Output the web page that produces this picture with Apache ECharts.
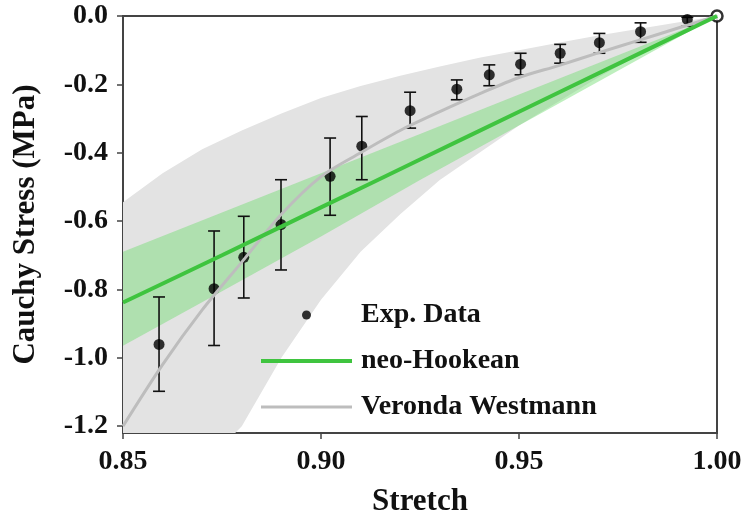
<!DOCTYPE html>
<html>
<head>
    <meta charset="UTF-8">
    <title>Cauchy stress vs stretch</title>
    <script src="https://cdn.jsdelivr.net/npm/echarts@6/dist/echarts.min.js"></script>
    <style>
        html, body { margin: 0; padding: 0; background: #fff; }
        #main { width: 746px; height: 518px; }
    </style>
</head>
<body>
    <div id="main"></div>
    <script type="text/javascript">
        // Experimental data (mean with error bars)
        const expStretch = [0.8591, 0.8730, 0.8805, 0.8899, 0.9023, 0.9103, 0.9225, 0.9343, 0.9425, 0.9504, 0.9604, 0.9703, 0.9807, 0.9925, 1.0];
        const expStress  = [-0.961, -0.798, -0.706, -0.610, -0.469, -0.381, -0.277, -0.214, -0.172, -0.141, -0.109, -0.078, -0.046, -0.010, 0];
        const expErrHigh = [-0.822, -0.629, -0.586, -0.479, -0.357, -0.294, -0.223, -0.187, -0.143, -0.109, -0.083, -0.051, -0.020, -0.004, 0];
        const expErrLow  = [-1.098, -0.964, -0.825, -0.743, -0.583, -0.479, -0.328, -0.245, -0.204, -0.172, -0.138, -0.109, -0.077, -0.030, 0];

        // neo-Hookean fit and its band
        const nhStretch = [0.85, 0.875, 0.90, 0.925, 0.95, 0.975, 1.0];
        const nhStress  = [-0.838, -0.70, -0.56, -0.42, -0.28, -0.14, 0];
        const nhUpper   = [-0.69, -0.575, -0.46, -0.345, -0.23, -0.115, 0];
        const nhLower   = [-0.965, -0.805, -0.645, -0.48, -0.32, -0.16, 0];

        // Veronda Westmann fit and its band
        const vwStretch = [0.85, 0.86, 0.87, 0.88, 0.89, 0.90, 0.91, 0.92, 0.93, 0.94, 0.95, 0.96, 0.97, 0.98, 0.99, 1.0];
        const vwStress  = [-1.2, -1.02, -0.86, -0.72, -0.58, -0.47, -0.40, -0.335, -0.28, -0.228, -0.18, -0.145, -0.108, -0.072, -0.036, 0];
        const vwUpper   = [-0.545, -0.46, -0.39, -0.335, -0.285, -0.24, -0.205, -0.175, -0.148, -0.122, -0.10, -0.078, -0.057, -0.038, -0.019, 0];
        const vwLower   = [-1.6, -1.45, -1.32, -1.2, -1.0, -0.83, -0.69, -0.58, -0.48, -0.40, -0.32, -0.25, -0.18, -0.115, -0.055, 0];

        const xTicks = [0.85, 0.90, 0.95, 1.00];
        const yTicks = [0.0, -0.2, -0.4, -0.6, -0.8, -1.0, -1.2];

        const font = "'Liberation Serif', 'Times New Roman', serif";

        // polygon band between two curves, drawn through the axis scales
        function bandSeries(name, xs, upper, lower, color) {
            return {
                name: name,
                type: 'custom',
                clip: true,
                silent: true,
                data: [[xs[0], upper[0]]],
                renderItem: function (params, api) {
                    let pts = [];
                    for (let i = 0; i < xs.length; i++) pts.push(api.coord([xs[i], upper[i]]));
                    for (let i = xs.length - 1; i >= 0; i--) pts.push(api.coord([xs[i], lower[i]]));
                    return {
                        type: 'polygon',
                        shape: { points: pts },
                        style: { fill: color }
                    };
                }
            };
        }

        let chart = echarts.init(document.getElementById('main'));

        let option = {
            animation: false,
            grid: {
                left: 123,
                right: 29,
                top: 16,
                bottom: 85,
                outerBoundsMode: 'none',
                containLabel: false,
                show: true,
                borderColor: '#444',
                borderWidth: 2,
                backgroundColor: 'transparent'
            },
            legend: {
                orient: 'vertical',
                left: 256,
                top: 296,
                itemWidth: 91,
                itemHeight: 9,
                itemGap: 18,
                selectedMode: false,
                textStyle: {
                    fontFamily: font,
                    fontWeight: 'bold',
                    fontSize: 28,
                    color: '#111',
                    padding: [0, 0, 0, 4]
                },
                data: [
                    { name: 'Exp. Data', icon: 'circle' },
                    { name: 'neo-Hookean', icon: 'path://M0,0H91V4H0Z' },
                    { name: 'Veronda Westmann', icon: 'path://M0,0H91V3H0Z' }
                ]
            },
            xAxis: {
                type: 'value',
                min: 0.85,
                max: 1.0,
                interval: 0.05,
                name: 'Stretch',
                nameLocation: 'middle',
                nameGap: 53,
                nameTextStyle: { fontFamily: font, fontWeight: 'bold', fontSize: 31, color: '#111' },
                axisLine: { show: true, onZero: false, lineStyle: { color: '#444', width: 2 } },
                axisTick: { show: true, inside: false, length: 6, lineStyle: { color: '#444', width: 1.5 } },
                axisLabel: {
                    margin: 15,
                    fontFamily: font,
                    fontWeight: 'bold',
                    fontSize: 28,
                    color: '#111',
                    formatter: v => v.toFixed(2)
                },
                splitLine: { show: false }
            },
            yAxis: {
                type: 'value',
                min: -1.22,
                max: 0,
                name: 'Cauchy Stress (MPa)',
                nameLocation: 'middle',
                nameGap: 82,
                nameTextStyle: { fontFamily: font, fontWeight: 'bold', fontSize: 31, color: '#111' },
                axisLine: { show: true, onZero: false, lineStyle: { color: '#444', width: 2 } },
                axisTick: { show: true, inside: false, length: 6, customValues: yTicks, lineStyle: { color: '#444', width: 1.5 } },
                axisLabel: {
                    margin: 15,
                    customValues: yTicks,
                    padding: [6, 0, 0, 0],
                    fontFamily: font,
                    fontWeight: 'bold',
                    fontSize: 28,
                    color: '#111',
                    formatter: v => v.toFixed(1)
                },
                splitLine: { show: false }
            },
            series: [
                bandSeries('vwBand', vwStretch, vwUpper, vwLower, '#e3e3e3'),
                bandSeries('nhBand', nhStretch, nhUpper, nhLower, 'rgba(110, 220, 110, 0.45)'),
                {
                    name: 'Veronda Westmann',
                    type: 'line',
                    smooth: 0.3,
                    symbol: 'none',
                    clip: true,
                    lineStyle: { color: '#bdbdbd', width: 3 },
                    itemStyle: { color: '#bdbdbd' },
                    data: vwStretch.map((x, i) => [x, vwStress[i]])
                },
                {
                    name: 'neo-Hookean',
                    type: 'line',
                    smooth: 0.3,
                    symbol: 'none',
                    lineStyle: { color: '#3fc43f', width: 4 },
                    itemStyle: { color: '#3fc43f' },
                    data: nhStretch.map((x, i) => [x, nhStress[i]])
                },
                {
                    name: 'errorBars',
                    type: 'custom',
                    silent: true,
                    data: expStretch.map((x, i) => [x, expErrHigh[i], expErrLow[i]]),
                    renderItem: function (params, api) {
                        let x = api.value(0);
                        let hi = api.value(1);
                        let lo = api.value(2);
                        if (hi === lo) return null;
                        let top = api.coord([x, hi]);
                        let bot = api.coord([x, lo]);
                        let w = 6;
                        let style = { stroke: '#111', lineWidth: 1.6 };
                        return {
                            type: 'group',
                            children: [
                                { type: 'line', shape: { x1: top[0], y1: top[1], x2: bot[0], y2: bot[1] }, style: style },
                                { type: 'line', shape: { x1: top[0] - w, y1: top[1], x2: top[0] + w, y2: top[1] }, style: style },
                                { type: 'line', shape: { x1: bot[0] - w, y1: bot[1], x2: bot[0] + w, y2: bot[1] }, style: style }
                            ]
                        };
                    }
                },
                {
                    name: 'Exp. Data',
                    type: 'scatter',
                    symbol: 'circle',
                    symbolSize: 11,
                    clip: false,
                    itemStyle: { color: '#000' },
                    data: expStretch.map((x, i) => {
                        if (i === expStretch.length - 1) {
                            return { value: [x, expStress[i]], itemStyle: { color: '#fff', borderColor: '#000', borderWidth: 2.5 } };
                        }
                        return [x, expStress[i]];
                    })
                }
            ]
        };

        chart.setOption(option);
    </script>
</body>
</html>
